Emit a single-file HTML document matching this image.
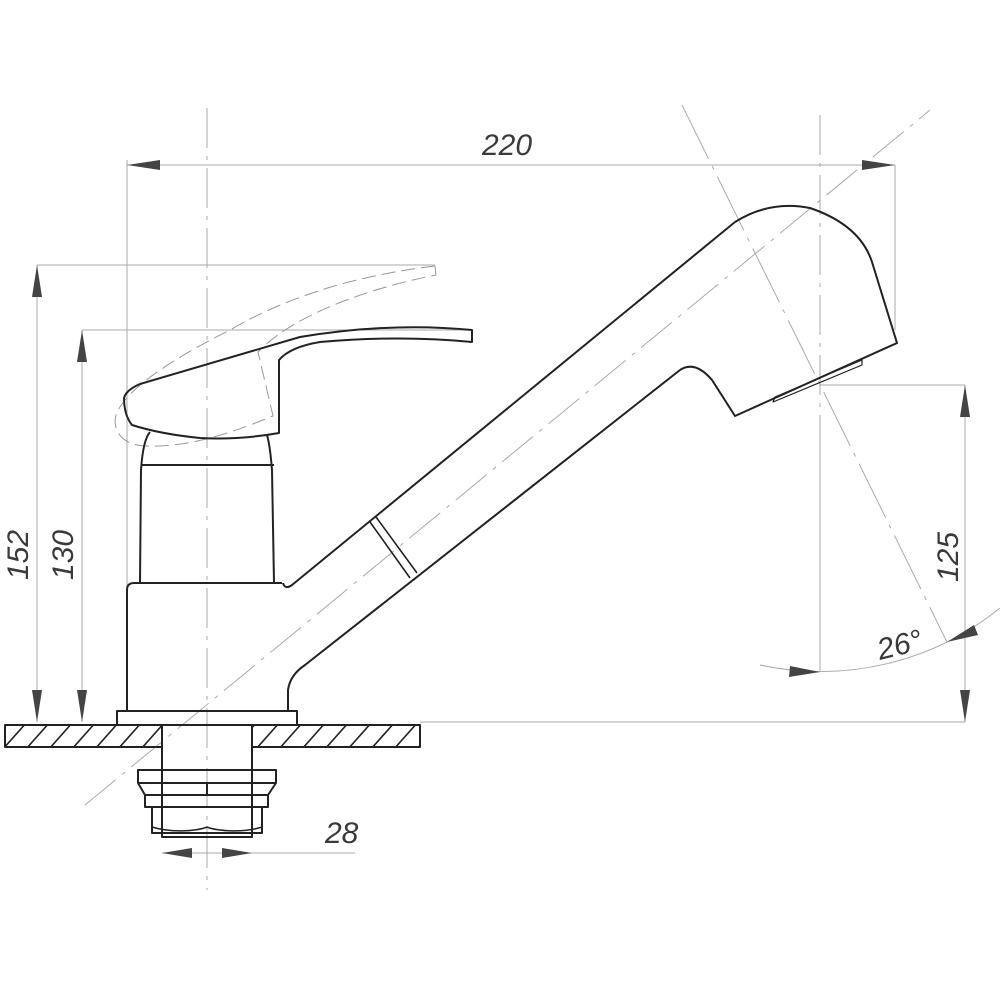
<!DOCTYPE html>
<html><head><meta charset="utf-8"><style>body{margin:0;background:#fff}svg{display:block}text{font-family:"Liberation Sans",sans-serif;font-style:italic;font-size:30px;fill:#3a3a3a}</style></head>
<body>
<svg width="1000" height="1000" viewBox="0 0 1000 1000" xmlns="http://www.w3.org/2000/svg">
<defs>
<clipPath id="ct"><path d="M5 725H162V747H5Z M252 725H420V747H252Z"/></clipPath>
</defs>
<g stroke="#aaa" stroke-width="1" fill="none">
<!-- thin extension lines -->
<line x1="127" y1="160" x2="127" y2="590"/>
<line x1="895" y1="165" x2="895" y2="330"/>
<line x1="127" y1="165" x2="895" y2="165"/>
<line x1="37" y1="265" x2="435" y2="265"/>
<line x1="82" y1="330" x2="470" y2="330"/>
<line x1="37" y1="265" x2="37" y2="722"/>
<line x1="82" y1="330" x2="82" y2="722"/>
<line x1="420" y1="722" x2="965" y2="722"/>
<line x1="820" y1="385" x2="965" y2="385"/>
<line x1="965" y1="385" x2="965" y2="722"/>
<line x1="820" y1="420" x2="820" y2="672"/>
<line x1="252" y1="853" x2="355" y2="853"/>
<line x1="162" y1="853" x2="252" y2="853"/>
<path d="M760 665 A285 285 0 0 0 1000 608"/>
<!-- center lines -->
<line x1="207" y1="108" x2="207" y2="890" stroke-dasharray="40 8 4 8"/>
<line x1="820" y1="115" x2="820" y2="420" stroke-dasharray="40 8 4 8"/>
<line x1="85" y1="805" x2="930" y2="110" stroke-dasharray="40 8 4 8"/>
<line x1="682" y1="105" x2="947" y2="642" stroke-dasharray="60 8 4 8"/>
<!-- dashed raised handle -->
<path d="M435 266 C360 275 290 295 230 330 C170 360 125 390 116 415 C112 430 122 445 145 446 C180 447 215 440 273 416 L258 352 C290 318 360 290 436 275 Z" stroke="#999" stroke-dasharray="14 6"/>
</g>
<!-- arrows -->
<g fill="#444">
<path d="M127 165 L160 160 L160 170Z"/>
<path d="M895 165 L862 160 L862 170Z"/>
<path d="M37 265 L32 297 L42 297Z"/>
<path d="M37 722 L32 690 L42 690Z"/>
<path d="M82 330 L77 362 L87 362Z"/>
<path d="M82 722 L77 690 L87 690Z"/>
<path d="M965 385 L960 417 L970 417Z"/>
<path d="M965 722 L960 690 L970 690Z"/>
<path d="M162 853 L192 848 L192 858Z"/>
<path d="M252 853 L222 848 L222 858Z"/>
<path d="M820 672 L790 666 L789 677Z"/>
<path d="M947 642 L974 625 L978 635Z"/>
</g>
<g stroke="#222" stroke-width="2" fill="none" stroke-linejoin="round">
<!-- countertop -->
<path d="M162 725H5V747H162 M252 725H420V747H252"/>
<g clip-path="url(#ct)" stroke-width="1.6">
<path d="M10 767l40-45M33 767l40-45M56 767l40-45M79 767l40-45M102 767l40-45M125 767l40-45M148 767l40-45M171 767l40-45M194 767l40-45M217 767l40-45M240 767l40-45M263 767l40-45M286 767l40-45M309 767l40-45M332 767l40-45M355 767l40-45M378 767l40-45M401 767l40-45M424 767l40-45M-13 767l40-45"/>
</g>
<!-- flange -->
<rect x="117" y="711" width="180" height="14"/>
<!-- tube & nut -->
<path d="M162 725V837H252V725"/>
<path d="M138 770H276V783H138Z M138 783L145 795H268L276 783 M145 795V807H268V795 M152 807V833H262V807 M207 783V795"/>
<path d="M152 827 C175 834 200 830 207 827 C214 830 240 834 262 827" stroke-width="1.5"/>
<!-- body -->
<path d="M127 711V590Q127 583 134 583H282"/>
<path d="M283 583Q285 590 292 585L735 222"/>
<path d="M288 711V690Q290 675 305 665L680 370"/>
<path d="M140 583L141 470Q143 440 150 432 M274 583L272 470Q270 445 267 435 M141 465H274"/>
<!-- ring -->
<path d="M370 522L410 578 M376 517L417 573" stroke-width="1.6"/>
<!-- spray head -->
<path d="M735 222Q770 200 810 208Q860 225 872 262L897 343L735 416L712 380Q695 360 680 370"/>
<path d="M773 402L775 397L862 360L862 365Z" stroke-width="1.2"/>
<!-- handle -->
<path d="M124 398Q126 390 140 384L300 337Q390 322 472 330V342Q400 335 320 342Q290 347 279 360V433Q240 440 200 438Q160 434 132 425Q124 415 124 398Z"/>
</g>
<text x="482" y="155">220</text>
<text x="325" y="843">28</text>
<text transform="translate(880,660) rotate(-14)">26°</text>
<text transform="translate(958,582) rotate(-90)">125</text>
<text transform="translate(28,580) rotate(-90)">152</text>
<text transform="translate(73,580) rotate(-90)">130</text>
</svg>
</body></html>
